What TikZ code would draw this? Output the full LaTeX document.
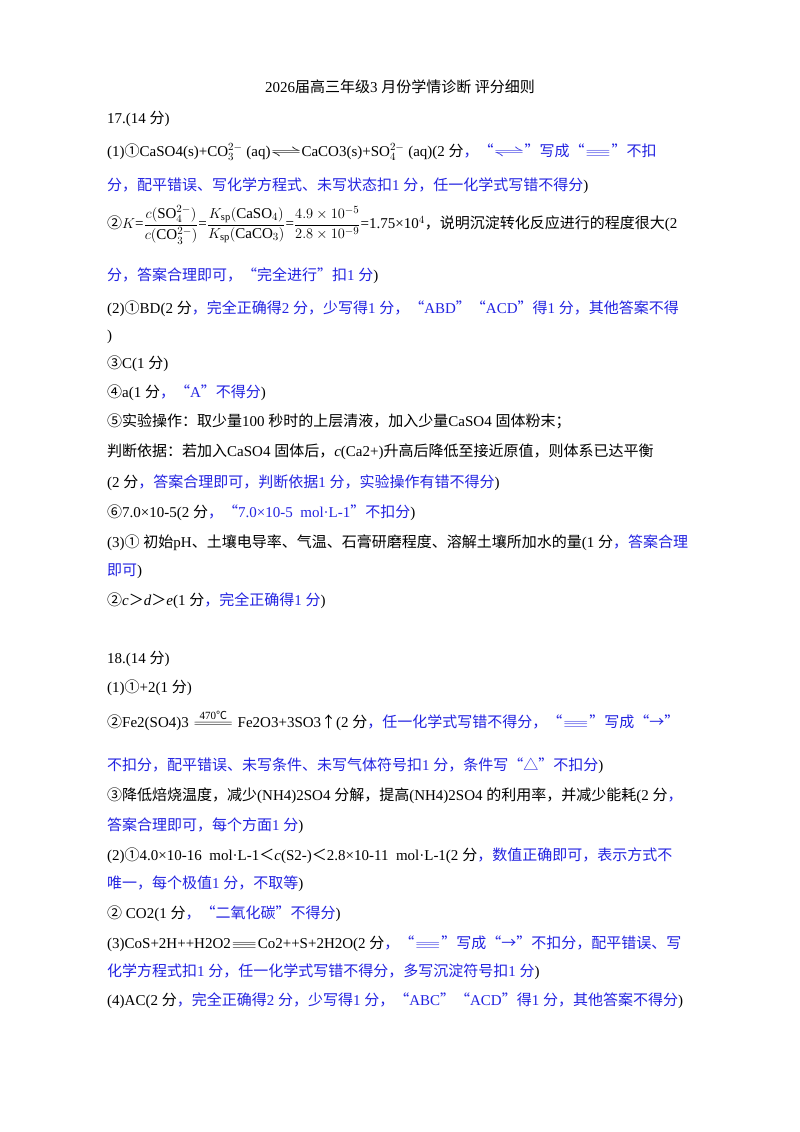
\documentclass[tikz,border=0pt]{standalone}
\usepackage{amsmath}
\usepackage{fontspec}
\setmainfont{Liberation Serif}
\newfontfamily\cjkf{Noto Sans CJK SC}
\XeTeXinterchartokenstate=1
\newXeTeXintercharclass\cjkc
\newcount\cc
\cc="4E00 \loop \XeTeXcharclass\cc=\cjkc \advance\cc 1 \ifnum\cc<"A000 \repeat
\cc="3000 \loop \XeTeXcharclass\cc=\cjkc \advance\cc 1 \ifnum\cc<"3040 \repeat
\cc="FF00 \loop \XeTeXcharclass\cc=\cjkc \advance\cc 1 \ifnum\cc<"FF5F \repeat
\cc="2460 \loop \XeTeXcharclass\cc=\cjkc \advance\cc 1 \ifnum\cc<"2474 \repeat
\XeTeXcharclass"201C=\cjkc \XeTeXcharclass"201D=\cjkc
\XeTeXcharclass"2103=\cjkc \XeTeXcharclass"25B3=\cjkc
\XeTeXcharclass"2191=\cjkc \XeTeXcharclass"2192=\cjkc
\XeTeXinterchartoks 0 \cjkc = {\cjkf}
\XeTeXinterchartoks 4095 \cjkc = {\cjkf}
\XeTeXinterchartoks \cjkc 0 = {\rmfamily}
\XeTeXinterchartoks \cjkc 4095 = {\rmfamily}
\definecolor{bl}{RGB}{35,35,225}
\newcommand{\B}[1]{{\color{bl}#1}}
\newcommand{\eqarr}{\scalebox{2.2}[1]{$\rightleftharpoons$}}
\newcommand{\teq}{\scalebox{2.4}[0.9]{$\equiv$}}
\begin{document}
\begin{tikzpicture}[x=1pt,y=-1pt,
  ln/.style={anchor=west,inner sep=0pt,font=\fontsize{15}{18}\selectfont}]
\useasboundingbox[fill=white] (0,0) rectangle (800,1132);
\node[ln,anchor=center] (t) at (400,87) {2026届高三年级3 月份学情诊断 评分细则};
\node[ln] (a1) at (107,119) {17.(14 分)};
\node[ln] (a2) at (107,152) {(1)①CaSO4(s)+CO$_3^{2-}$ (aq)\eqarr CaCO3(s)+SO$_4^{2-}$ (aq)(2 分\B{，“\eqarr”写成“\teq”不扣}};
\node[ln] (a3) at (107,186) {\B{分，配平错误、写化学方程式、未写状态扣1 分，任一化学式写错不得分})};
\node[ln] (a4) at (107,225) {②$K$=$\dfrac{c(\mathrm{SO}_4^{2-})}{c(\mathrm{CO}_3^{2-})}$=$\dfrac{K_{\mathrm{sp}}(\mathrm{CaSO}_4)}{K_{\mathrm{sp}}(\mathrm{CaCO}_3)}$=$\dfrac{4.9\times10^{-5}}{2.8\times10^{-9}}$=1.75×10$^4$，说明沉淀转化反应进行的程度很大(2};
\node[ln] (a5) at (107,276) {\B{分，答案合理即可，“完全进行”扣1 分})};
\node[ln] (a6) at (107,309) {(2)①BD(2 分\B{，完全正确得2 分，少写得1 分，“ABD”“ACD”得1 分，其他答案不得}};
\node[ln] (a7) at (107,337) {)};
\node[ln] (a8) at (107,364) {③C(1 分)};
\node[ln] (a9) at (107,393) {④a(1 分\B{，“A”不得分})};
\node[ln] (a10) at (107,421) {⑤实验操作：取少量100 秒时的上层清液，加入少量CaSO4 固体粉末；};
\node[ln] (a11) at (107,452) {判断依据：若加入CaSO4 固体后，\textit{c}(Ca2+)升高后降低至接近原值，则体系已达平衡};
\node[ln] (a12) at (107,483) {(2 分\B{，答案合理即可，判断依据1 分，实验操作有错不得分})};
\node[ln] (a13) at (107,513) {⑥7.0×10-5(2 分\B{，“7.0×10-5\ \ mol·L-1”不扣分})};
\node[ln] (a14) at (107,543) {(3)① 初始pH、土壤电导率、气温、石膏研磨程度、溶解土壤所加水的量(1 分\B{，答案合理}};
\node[ln] (a15) at (107,571) {\B{即可})};
\node[ln] (a16) at (107,601) {②\textit{c}＞\textit{d}＞\textit{e}(1 分\B{，完全正确得1 分})};
\node[ln] (b1) at (107,659) {18.(14 分)};
\node[ln] (b2) at (107,688) {(1)①+2(1 分)};
\node[ln] (b3) at (107,720) {②Fe2(SO4)3\,$\overset{\text{\fontsize{11}{11}\selectfont 470℃}}{\scalebox{4}[1]{$=$}}$\,Fe2O3+3SO3↑(2 分\B{，任一化学式写错不得分，“\teq”写成“→”}};
\node[ln] (b4) at (107,766) {\B{不扣分，配平错误、未写条件、未写气体符号扣1 分，条件写“△”不扣分})};
\node[ln] (b5) at (107,796) {③降低焙烧温度，减少(NH4)2SO4 分解，提高(NH4)2SO4 的利用率，并减少能耗(2 分\B{，}};
\node[ln] (b6) at (107,826) {\B{答案合理即可，每个方面1 分})};
\node[ln] (b7) at (107,856) {(2)①4.0×10-16\ \ mol·L-1＜\textit{c}(S2-)＜2.8×10-11\ \ mol·L-1(2 分\B{，数值正确即可，表示方式不}};
\node[ln] (b8) at (107,884) {\B{唯一，每个极值1 分，不取等})};
\node[ln] (b9) at (107,914) {② CO2(1 分\B{，“二氧化碳”不得分})};
\node[ln] (b10) at (107,944) {(3)CoS+2H++H2O2\teq Co2++S+2H2O(2 分\B{，“\teq”写成“→”不扣分，配平错误、写}};
\node[ln] (b11) at (107,972) {\B{化学方程式扣1 分，任一化学式写错不得分，多写沉淀符号扣1 分})};
\node[ln] (b12) at (107,1001) {(4)AC(2 分\B{，完全正确得2 分，少写得1 分，“ABC”“ACD”得1 分，其他答案不得分})};
\end{tikzpicture}
\end{document}
